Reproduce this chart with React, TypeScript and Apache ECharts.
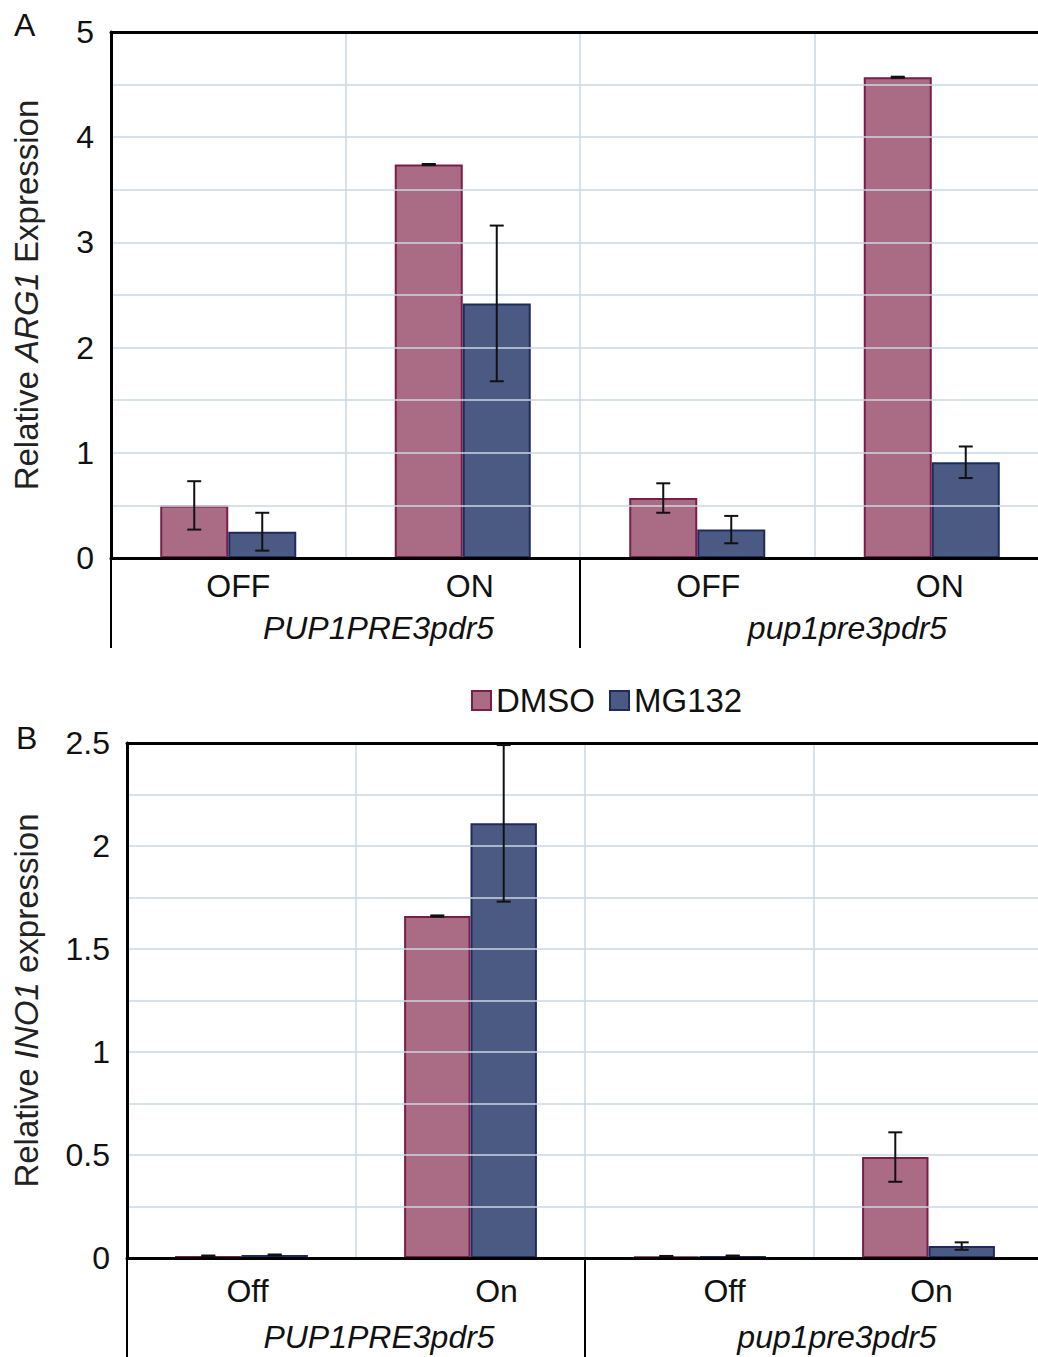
import React, { useEffect, useRef } from "react";
import * as echarts from "echarts";

// ---------- data ----------
const catsA = ["OFF", "ON", "OFF", "ON"];
const catsB = ["Off", "On", "Off", "On"];
const groups = ["PUP1PRE3pdr5", "pup1pre3pdr5"];
const seriesNames = ["DMSO", "MG132"];

const aDmso = [0.5, 3.74, 0.57, 4.57];
const aDmsoErr = [0.23, 0.005, 0.14, 0.005];
const aMg = [0.25, 2.42, 0.27, 0.91];
const aMgErr = [0.18, 0.74, 0.13, 0.15];

const bDmso = [0.01, 1.66, 0.008, 0.49];
const bDmsoErr = [0.002, 0.003, 0.002, 0.12];
const bMg = [0.015, 2.11, 0.01, 0.058];
const bMgErr = [0.002, 0.38, 0.002, 0.018];

const yTicksA = [0, 1, 2, 3, 4, 5];
const yTicksB = [0, 0.5, 1, 1.5, 2, 2.5];

// ---------- styles ----------
const FONT = "'Liberation Sans', Arial, Helvetica, sans-serif";
const DMSO_FILL = "#aa6c84";
const DMSO_EDGE = "#7b1c49";
const MG_FILL = "#4a5a83";
const MG_EDGE = "#1f2b5e";
const GRID_COLOR = "#cad7e3";
const BAR_GAP_CAT = 0.42;
const LABEL_PAD_A = [20, 14, 22, 16];
const LABEL_PAD_B = [12, 52, 50, 6];

function errData(means: number[], errs: number[]) {
  return means.map((m, i) => [i, m - errs[i], m + errs[i]]);
}

function errSeries(name: string, xIdx: number, yIdx: number, data: number[][], sign: number) {
  return {
    type: "custom",
    name: name + "-err",
    xAxisIndex: xIdx,
    yAxisIndex: yIdx,
    z: 10,
    silent: true,
    encode: { x: 0, y: [1, 2] },
    data,
    renderItem: (params: any, api: any) => {
      const cat = api.value(0);
      const lo = api.value(1);
      const hi = api.value(2);
      const bw = api.size([1, 0])[0];
      const off = sign * bw * ((1 - BAR_GAP_CAT) / 4);
      const pLo = api.coord([cat, lo]);
      const pHi = api.coord([cat, hi]);
      const x = pLo[0] + off;
      const cap = 7;
      const style = { stroke: "#111", lineWidth: 2 };
      return {
        type: "group",
        children: [
          { type: "line", shape: { x1: x, y1: pLo[1], x2: x, y2: pHi[1] }, style },
          { type: "line", shape: { x1: x - cap, y1: pLo[1], x2: x + cap, y2: pLo[1] }, style },
          { type: "line", shape: { x1: x - cap, y1: pHi[1], x2: x + cap, y2: pHi[1] }, style },
        ],
      };
    },
  };
}

function barSeries(name: string, xIdx: number, yIdx: number, data: number[], fill: string, edge: string) {
  return {
    type: "bar",
    name,
    xAxisIndex: xIdx,
    yAxisIndex: yIdx,
    data,
    barGap: "0%",
    barCategoryGap: BAR_GAP_CAT * 100 + "%",
    itemStyle: { color: fill, borderColor: edge, borderWidth: 2 },
    z: 3,
  };
}

function mainXAxis(gridIndex: number, cats: string[], pads: number[], margin: number) {
  return {
    type: "category",
    gridIndex,
    position: "bottom",
    data: cats.map((c, i) => ({ value: c, textStyle: { padding: [0, 0, 0, pads[i]] } })),
    axisLine: { show: true, onZero: false, lineStyle: { color: "#000", width: 3 } },
    axisTick: { show: false },
    axisLabel: { interval: 0, margin, fontSize: 32, color: "#111", fontFamily: FONT },
    splitLine: { show: true, interval: 0, lineStyle: { color: GRID_COLOR, width: 1.5 } },
    z: 5,
  };
}

function groupXAxis(gridIndex: number, tickLen: number, margin: number, pad: number) {
  return {
    type: "category",
    gridIndex,
    position: "bottom",
    data: groups,
    axisLine: { show: false, onZero: false },
    axisTick: { show: true, interval: 0, length: tickLen, lineStyle: { color: "#000", width: 2 } },
    axisLabel: {
      interval: 0,
      margin,
      fontSize: 32,
      fontStyle: "italic",
      color: "#111",
      fontFamily: FONT,
      padding: [0, 0, 0, pad],
    },
    splitLine: { show: false },
    z: 5,
  };
}

function topXAxis(gridIndex: number, cats: string[]) {
  return {
    type: "category",
    gridIndex,
    position: "top",
    data: cats,
    axisLine: { show: true, onZero: false, lineStyle: { color: "#000", width: 3 } },
    axisTick: { show: false },
    axisLabel: { show: false },
    splitLine: { show: false },
    z: 5,
  };
}

function yAxis(gridIndex: number, max: number, interval: number, labels: number[], name: string, nameGap: number) {
  return {
    type: "value",
    gridIndex,
    min: 0,
    max,
    interval,
    name,
    nameLocation: "middle",
    nameGap,
    nameTextStyle: {
      fontSize: 33,
      color: "#222",
      fontFamily: FONT,
      rich: { i: { fontSize: 33, fontStyle: "italic", color: "#222", fontFamily: FONT } },
    },
    axisLine: { show: true, lineStyle: { color: "#000", width: 3 } },
    axisTick: { show: false },
    axisLabel: {
      margin: 17,
      fontSize: 32,
      color: "#111",
      fontFamily: FONT,
      formatter: (v: number) => {
        const hit = labels.find((t) => Math.abs(t - v) < 1e-6);
        return hit === undefined ? "" : String(hit);
      },
    },
    splitLine: { show: true, lineStyle: { color: GRID_COLOR, width: 1.5 } },
    z: 5,
  };
}

export default function App() {
  const ref = useRef<HTMLDivElement>(null);
  useEffect(() => {
    if (!ref.current) return;
    const chart = echarts.init(ref.current, undefined, { renderer: "svg" });
    const option: any = {
      animation: false,
      backgroundColor: "#fff",
      grid: [
        { left: 111, top: 32, width: 938, height: 526, containLabel: false },
        { left: 127, top: 743, width: 916, height: 515, containLabel: false },
      ],
      legend: {
        data: seriesNames,
        left: 466,
        top: 679,
        icon: "rect",
        itemWidth: 19,
        itemHeight: 19,
        itemGap: 14,
        textStyle: { fontSize: 33, color: "#111", fontFamily: FONT },
      },
      xAxis: [
        mainXAxis(0, catsA, LABEL_PAD_A, 12),
        groupXAxis(0, 90, 54, 66),
        topXAxis(0, catsA),
        mainXAxis(1, catsB, LABEL_PAD_B, 17),
        groupXAxis(1, 110, 63, 46),
        topXAxis(1, catsB),
      ],
      yAxis: [
        yAxis(0, 5, 0.5, yTicksA, "Relative {i|ARG1} Expression", 68),
        yAxis(1, 2.5, 0.25, yTicksB, "Relative {i|INO1} expression", 84),
      ],
      graphic: [
        { type: "text", left: 14, top: 9, style: { text: "A", fontSize: 32, fill: "#111", fontFamily: FONT } },
        { type: "text", left: 16, top: 722, style: { text: "B", fontSize: 32, fill: "#111", fontFamily: FONT } },
      ],
      series: [
        barSeries("DMSO", 0, 0, aDmso, DMSO_FILL, DMSO_EDGE),
        barSeries("MG132", 0, 0, aMg, MG_FILL, MG_EDGE),
        errSeries("DMSO", 0, 0, errData(aDmso, aDmsoErr), -1),
        errSeries("MG132", 0, 0, errData(aMg, aMgErr), 1),
        barSeries("DMSO", 3, 1, bDmso, DMSO_FILL, DMSO_EDGE),
        barSeries("MG132", 3, 1, bMg, MG_FILL, MG_EDGE),
        errSeries("DMSO", 3, 1, errData(bDmso, bDmsoErr), -1),
        errSeries("MG132", 3, 1, errData(bMg, bMgErr), 1),
      ],
    };
    chart.setOption(option);
    return () => chart.dispose();
  }, []);
  return (
    <div
      style={{
        position: "absolute",
        left: 0,
        top: 0,
        width: 1038,
        height: 1357,
        overflow: "hidden",
        background: "#fff",
      }}
    >
      <div ref={ref} style={{ width: 1070, height: 1357 }} />
    </div>
  );
}
